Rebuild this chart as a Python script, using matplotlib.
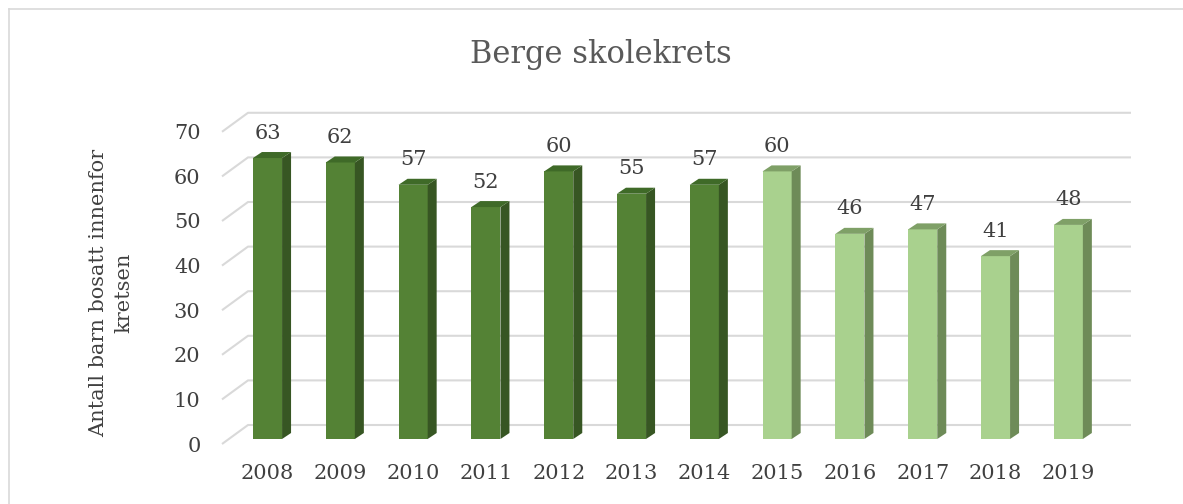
import matplotlib.pyplot as plt
from matplotlib.patches import Polygon
from matplotlib.lines import Line2D
import numpy as np

years = ['2008', '2009', '2010', '2011', '2012', '2013', '2014', '2015', '2016', '2017', '2018', '2019']
children = [63, 62, 57, 52, 60, 55, 57, 60, 46, 47, 41, 48]
# first 7 years dark, the rest light
is_dark = [True] * 7 + [False] * 5
grid_vals = [0, 10, 20, 30, 40, 50, 60, 70]

title = 'Berge skolekrets'
ylabel = 'Antall barn bosatt innenfor\nkretsen'

dark = {'front': '#548235', 'side': '#375623', 'top': '#3f6a28'}
light = {'front': '#a9d18e', 'side': '#6e8b58', 'top': '#7fa067'}

W, H = 1183, 504
fig = plt.figure(figsize=(W / 100, H / 100), dpi=100)
plt.rcParams['font.family'] = ['DejaVu Serif']

# axes box in pixels (left, top, right, bottom)
px_l, px_t, px_r, px_b = 220, 100, 1140, 445
ax = fig.add_axes([px_l / W, (H - px_b) / H, (px_r - px_l) / W, (px_b - px_t) / H])

# mapping: bar center i -> 267.5 + 72.8*i px ; value v -> 439 - 4.46*v px
x0, xs = 267.5, 72.8
y0, ys = 439, 4.46
ax.set_xlim((px_l - x0) / xs, (px_r - x0) / xs)
ax.set_ylim((y0 - px_b) / ys, (y0 - px_t) / ys)

w = 0.4
dx, dy = 9 / xs, 6 / ys
x = np.arange(len(years))

# 3d-ish gridlines: short diagonal on the side wall, then flat back line
back_dy = (y0 - 425) / ys
front_dy = (y0 - 444) / ys
xa, xb, xc = (222 - x0) / xs, (248 - x0) / xs, (1131 - x0) / xs
for g in grid_vals:
    ax.plot([xa, xb, xc], [g + front_dy, g + back_dy, g + back_dy],
            color='#d9d9d9', lw=1.5, zorder=1, solid_capstyle='butt')

for i, v in enumerate(children):
    c = dark if is_dark[i] else light
    xl, xr = x[i] - w / 2, x[i] + w / 2
    ax.bar(x[i], v, width=w, color=c['front'], zorder=3)
    ax.add_patch(Polygon([(xr, 0), (xr + dx, dy), (xr + dx, v + dy), (xr, v)],
                         closed=True, color=c['side'], lw=0, zorder=3))
    ax.add_patch(Polygon([(xl, v), (xr, v), (xr + dx, v + dy), (xl + dx, v + dy)],
                         closed=True, color=c['top'], lw=0, zorder=3))
    ax.annotate(str(v), (x[i], v), xytext=(0, 18), textcoords='offset points',
                ha='center', va='center', fontsize=15, color='#404040')

ax.set_xticks(x)
ax.set_xticklabels(years)
ax.set_yticks([g + front_dy for g in grid_vals])
ax.set_yticklabels([str(g) for g in grid_vals])
ax.tick_params(length=0, labelsize=15, labelcolor='#404040')
ax.tick_params(axis='x', pad=14)
ax.tick_params(axis='y', pad=14)
for s in ax.spines.values():
    s.set_visible(False)

fig.text(601 / W, 1 - 55 / H, title, ha='center', va='center', fontsize=22, color='#595959')
fig.text(111 / W, 1 - 293 / H, ylabel, ha='center', va='center', rotation=90,
         fontsize=15, color='#404040', linespacing=1.4)

# chart frame (cropped at right and bottom)
fig.add_artist(Line2D([9 / W, 9 / W], [0, 1 - 9 / H], color='#d9d9d9', lw=1.2,
                      transform=fig.transFigure))
fig.add_artist(Line2D([9 / W, 1], [1 - 9 / H, 1 - 9 / H], color='#d9d9d9', lw=1.2,
                      transform=fig.transFigure))

fig.savefig('out.png', dpi=100)
